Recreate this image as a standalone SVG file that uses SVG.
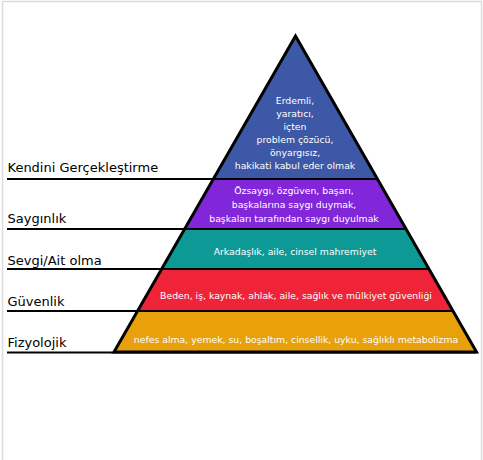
<svg xmlns="http://www.w3.org/2000/svg" width="483" height="460" viewBox="0 0 483 460">
<style>
.lvl{stroke:none}
.t{font-family:"DejaVu Sans",Verdana,sans-serif;font-size:9.3px;fill:#fff;text-anchor:middle}
.lab{font-family:"DejaVu Sans",Verdana,sans-serif;font-size:13px;fill:#000}
.sep{stroke:#000;stroke-width:2;fill:none}
.edge{stroke:#000;stroke-width:3;fill:none;stroke-linejoin:miter}
</style>
<rect x="0" y="0" width="483" height="460" fill="#fff"/>
<rect x="2.5" y="1.5" width="479" height="470" fill="none" stroke="#dcdcdc" stroke-width="1.5"/>
<g id="level-self-actualization">
<polygon class="lvl" fill="#3d58a6" points="295.5,36 377.6,179 213.4,179"/>
<text class="t" x="295" y="104">Erdemli,</text>
<text class="t" x="295" y="117">yaratıcı,</text>
<text class="t" x="295" y="130">içten</text>
<text class="t" x="295" y="143">problem çözücü,</text>
<text class="t" x="295" y="156">önyargısız,</text>
<text class="t" x="295" y="169">hakikati kabul eder olmak</text>
</g>
<g id="level-esteem">
<polygon class="lvl" fill="#8127d9" points="213.4,179 377.6,179 406.3,229 184.7,229"/>
<text class="t" x="294" y="194">Özsaygı, özgüven, başarı,</text>
<text class="t" x="294" y="208">başkalarına saygı duymak,</text>
<text class="t" x="294" y="221.5">başkaları tarafından saygı duyulmak</text>
</g>
<g id="level-love">
<polygon class="lvl" fill="#0d9a96" points="184.7,229 406.3,229 429.3,269 161.7,269"/>
<text class="t" x="295" y="255">Arkadaşlık, aile, cinsel mahremiyet</text>
</g>
<g id="level-safety">
<polygon class="lvl" fill="#ef2438" points="161.7,269 429.3,269 453.4,311 137.6,311"/>
<text class="t" x="296" y="299">Beden, iş, kaynak, ahlak, aile, sağlık ve mülkiyet güvenliği</text>
</g>
<g id="level-physiological">
<polygon class="lvl" fill="#e8a10a" points="137.6,311 453.4,311 476.5,352 114,352"/>
<text class="t" x="296" y="342.5">nefes alma, yemek, su, boşaltım, cinsellik, uyku, sağlıklı metabolizma</text>
</g>
<g id="connectors">
<line class="sep" x1="7" y1="179" x2="377.6" y2="179"/>
<line class="sep" x1="7" y1="229" x2="406.3" y2="229"/>
<line class="sep" x1="7" y1="269" x2="429.3" y2="269"/>
<line class="sep" x1="7" y1="311" x2="453.4" y2="311"/>
<line class="sep" x1="7" y1="352.5" x2="476.5" y2="352.5"/>
<polygon class="edge" points="295.5,36 476.5,352 114,352"/>
</g>
<g id="labels">
<text class="lab" x="7.5" y="171.5">Kendini Gerçekleştirme</text>
<text class="lab" x="7.5" y="222.5">Saygınlık</text>
<text class="lab" x="7.5" y="264.5">Sevgi/Ait olma</text>
<text class="lab" x="7.5" y="306">Güvenlik</text>
<text class="lab" x="7.5" y="347">Fizyolojik</text>
</g>
</svg>
